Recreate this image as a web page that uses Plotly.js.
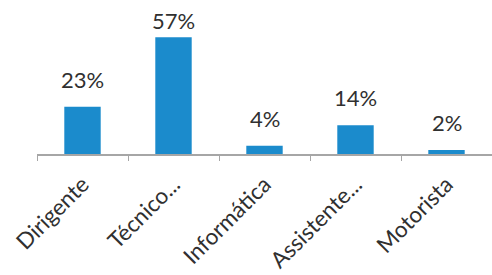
<!DOCTYPE html>
<html><head><meta charset="utf-8">
<script src="https://cdn.plot.ly/plotly-3.0.1.min.js"></script>
<style>html,body{margin:0;padding:0;background:#fff}</style>
</head><body><div id="chart" style="width:492px;height:275px"></div>
<script>
const categories = ["Dirigente", "Técnico...", "Informática", "Assistente...", "Motorista"];
const values = [23, 57, 4, 14, 2];
const valueLabels = ["23%", "57%", "4%", "14%", "2%"];

const H = 275, T = 31, B = 121, YMAX = 60;
const plotH = H - T - B;
const annotations = values.map((v, i) => {
  const topPx = T + plotH * (1 - v / YMAX);
  // label bottom sits ~12px above bar, but never above the chart's top strip
  const bottomPx = Math.max(topPx - 12, 36);
  return {
    x: categories[i], y: v, xref: 'x', yref: 'y',
    text: valueLabels[i], showarrow: false, yanchor: 'bottom',
    yshift: topPx - bottomPx,
    font: {family: 'Lato, sans-serif', size: 22, color: '#303030'}
  };
});

Plotly.newPlot('chart', [{
  type: 'bar', x: categories, y: values,
  marker: {color: '#1b8bcc'}, width: 0.4,
  hoverinfo: 'none', cliponaxis: false
}], {
  width: 492, height: 275,
  margin: {l: 37, r: 0, t: T, b: B},
  paper_bgcolor: '#fff', plot_bgcolor: '#fff',
  showlegend: false,
  xaxis: {
    type: 'category', range: [-0.5, 4.5],
    showline: true, linecolor: '#a6a6a6', linewidth: 1.5,
    ticks: 'outside', tickson: 'boundaries', ticklen: 5, tickcolor: '#a6a6a6',
    tickangle: -45, ticklabelstandoff: 7,
    tickfont: {family: 'Lato, sans-serif', size: 22.5, color: '#303030'},
    showgrid: false, zeroline: false
  },
  yaxis: {range: [0, YMAX], visible: false, showgrid: false, zeroline: false},
  annotations: annotations
}, {staticPlot: true, displayModeBar: false});
</script></body></html>
